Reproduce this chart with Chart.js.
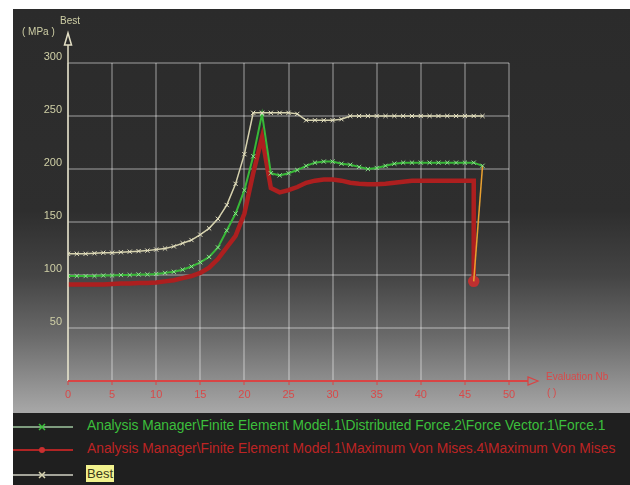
<!DOCTYPE html>
<html>
<head>
<meta charset="utf-8">
<script src="https://cdn.jsdelivr.net/npm/chart.js@4.4.1/dist/chart.umd.min.js"></script>
<style>
  body { margin: 0; background: #fff; font-family: "Liberation Sans", Arial, sans-serif; }
  #panel { position: absolute; left: 13px; top: 9px; width: 617px; height: 476px; background: #1f1f1f; overflow: hidden; }
  #plot { position: absolute; left: 0; top: 0; width: 617px; height: 404px;
    background: linear-gradient(to bottom, #2b2b2b 0%, #2e2e2e 50%, #444 66%, #6a6a6a 81%, #a8a8a8 100%); }
  #plot canvas { position: absolute; left: 0; top: 0; }
  .lbl { position: absolute; white-space: nowrap; font-size: 10px; }
  #legend { position: absolute; left: 0; top: 404px; width: 617px; height: 72px; }
  .row { position: absolute; left: 0; height: 18px; }
  .row svg { position: absolute; left: 0; top: 0; }
  .row span { position: absolute; left: 74px; top: 0px; font-size: 13.8px; white-space: nowrap; }
</style>
</head>
<body>
<div id="panel">
  <div id="plot">
    <canvas id="chart" width="617" height="404"></canvas>
    <span class="lbl" style="left:47px;top:6px;color:#cfcfa6;">Best</span>
    <span class="lbl" style="left:9px;top:17px;color:#cfcfa6;">( MPa )</span>
    <span class="lbl" style="left:533px;top:362px;color:#d84a4a;">Evaluation Nb</span>
    <span class="lbl" style="left:534px;top:378px;color:#d84a4a;">( )</span>
  </div>
  <div id="legend">
    <div class="row" style="top:5px;">
      <svg width="62" height="18"><line x1="0" y1="9" x2="60" y2="9" stroke="#7f9c7f" stroke-width="2"/><path d="M26 6 L32 12 M32 6 L26 12" stroke="#3cc43c" stroke-width="1.5"/></svg>
      <span style="color:#3cbf3c;">Analysis Manager\Finite Element Model.1\Distributed Force.2\Force Vector.1\Force.1</span>
    </div>
    <div class="row" style="top:28px;">
      <svg width="62" height="18"><line x1="0" y1="9" x2="60" y2="9" stroke="#b02424" stroke-width="2"/><circle cx="29" cy="9" r="3" fill="#c83030"/></svg>
      <span style="color:#bd2424;">Analysis Manager\Finite Element Model.1\Maximum Von Mises.4\Maximum Von Mises</span>
    </div>
    <div class="row" style="top:53px;">
      <svg width="62" height="18"><line x1="0" y1="9" x2="60" y2="9" stroke="#a4a49a" stroke-width="2"/><path d="M26 6 L32 12 M32 6 L26 12" stroke="#d8d4b0" stroke-width="1.5"/></svg>
      <span style="color:#3a3a1a;background:#f2f28e;left:73px;top:-1px;padding:1px 1px;font-size:13px;">Best</span>
    </div>
  </div>
</div>
<script>
// evaluation numbers (x)
var evalNb = [0,1,2,3,4,5,6,7,8,9,10,11,12,13,14,15,16,17,18,19,20,21,22,23,
  24,25,26,27,28,29,30,31,32,33,34,35,36,37,38,39,40,41,42,43,44,45,46,47];

// Force.1 (green)
var forceValues = [99,99,99,99,99.5,99.5,100,100,100.5,100.5,101,102,103,105,108,112,117,126,142,158,180,212,252,
  196,194,196,199,203,206,207,207,205,204,202,200,201,203,205,206,206,206,206,206,206,206,206,206,203];

// Maximum Von Mises (red), evaluations 0..46 then the drop at 46
var misesValues = [91,91,91,91,91,91.5,92,92,92.5,92.5,93,94,95,97,99,102,107,115,126,137,158,196,230,
  182,178,180,183,187,189,190,190,189,187,186,185.5,185.5,186,187,188,189,189,189,189,189,189,189,189];
var misesDropAt = 46;
var misesDrop = 94;

// Best (beige)
var bestValues = [120,120,120,120.5,121,121,121.5,122,122.5,123,124,125,127,130,133,138,144,153,166,186,214,253,
  253,253,253,253,252,246,246,246,246,247,250,250,250,250,250,250,250,250,250,250,250,250,250,250,250,250];

var xTicks = [0,5,10,15,20,25,30,35,40,45,50];
var yTicks = [0,50,100,150,200,250,300];

var forceData = forceValues.map(function(v, i) { return {x: evalNb[i], y: v}; });
forceData.push({x: misesDropAt, y: misesDrop}); // link to the last red point
var misesData = misesValues.map(function(v, i) { return {x: evalNb[i], y: v}; });
misesData.push({x: misesDropAt, y: misesDrop});
var bestData = bestValues.map(function(v, i) { return {x: evalNb[i], y: v}; });

// axis lines with open arrows
var axesPlugin = {
  id: 'axes',
  afterDatasetsDraw: function(chart) {
    var c = chart.ctx, a = chart.chartArea;
    c.save();
    c.strokeStyle = '#e2dec4';
    c.lineWidth = 1.5;
    c.beginPath();
    c.moveTo(a.left, a.bottom);
    c.lineTo(a.left, 36);
    c.stroke();
    c.beginPath();
    c.moveTo(a.left, 24); c.lineTo(a.left - 3.5, 36); c.lineTo(a.left + 3.5, 36); c.closePath();
    c.stroke();
    c.strokeStyle = '#d84444';
    c.lineWidth = 2;
    c.beginPath();
    c.moveTo(a.left, a.bottom);
    c.lineTo(515, a.bottom);
    c.stroke();
    c.lineWidth = 1.2;
    c.beginPath();
    c.moveTo(525, a.bottom); c.lineTo(515, a.bottom - 4); c.lineTo(515, a.bottom + 4); c.closePath();
    c.stroke();
    c.restore();
  }
};

var ctx = document.getElementById('chart');
var chart = new Chart(ctx, {
  type: 'line',
  data: {
    datasets: [
      {
        label: 'Maximum Von Mises',
        data: misesData,
        borderColor: '#ad1f1f',
        borderWidth: 4.5,
        pointStyle: 'circle',
        pointRadius: function(c) { return c.dataIndex === misesValues.length ? 3.5 : 0; },
        pointBackgroundColor: '#c03030',
        pointBorderColor: '#c03030',
        order: 3
      },
      {
        label: 'Force.1',
        data: forceData,
        borderColor: '#38b838',
        borderWidth: 2,
        pointStyle: 'crossRot',
        pointRadius: function(c) { return c.dataIndex >= forceValues.length ? 0 : 3; },
        pointBorderColor: '#8ee08e',
        pointBorderWidth: 1,
        segment: {
          borderColor: function(c) { return c.p1DataIndex >= forceValues.length ? '#e8a030' : undefined; },
          borderWidth: function(c) { return c.p1DataIndex >= forceValues.length ? 1.5 : undefined; }
        },
        order: 2
      },
      {
        label: 'Best',
        data: bestData,
        borderColor: '#d6d2ae',
        borderWidth: 1.5,
        pointStyle: 'crossRot',
        pointRadius: 3,
        pointBorderColor: '#e6e2c2',
        pointBorderWidth: 1,
        order: 1
      }
    ]
  },
  options: {
    responsive: false,
    animation: false,
    layout: { padding: { top: 54, right: 121, bottom: 0, left: 0 } },
    plugins: { legend: { display: false }, tooltip: { enabled: false } },
    scales: {
      x: {
        type: 'linear',
        min: 0, max: 50,
        afterFit: function(s) { s.height = 32; },
        afterBuildTicks: function(s) { s.ticks = xTicks.map(function(v) { return {value: v}; }); },
        border: { display: false },
        grid: { color: 'rgba(255,255,255,0.28)', lineWidth: 2, drawTicks: true, tickLength: 4, tickColor: '#d84444', tickWidth: 1 },
        ticks: { color: '#d84a4a', font: { size: 11, family: 'Liberation Sans' }, padding: 3, maxRotation: 0 }
      },
      y: {
        min: 0, max: 300,
        afterFit: function(s) { s.width = 55; },
        afterBuildTicks: function(s) { s.ticks = yTicks.map(function(v) { return {value: v}; }); },
        border: { display: false },
        grid: { color: 'rgba(255,255,255,0.28)', lineWidth: 2, drawTicks: false },
        ticks: {
          color: '#cfcfa6',
          font: { size: 11, family: 'Liberation Sans' },
          padding: 6,
          labelOffset: -6,
          callback: function(v) { return v === 0 ? '' : v; }
        }
      }
    }
  },
  plugins: [axesPlugin]
});
</script>
</body>
</html>
